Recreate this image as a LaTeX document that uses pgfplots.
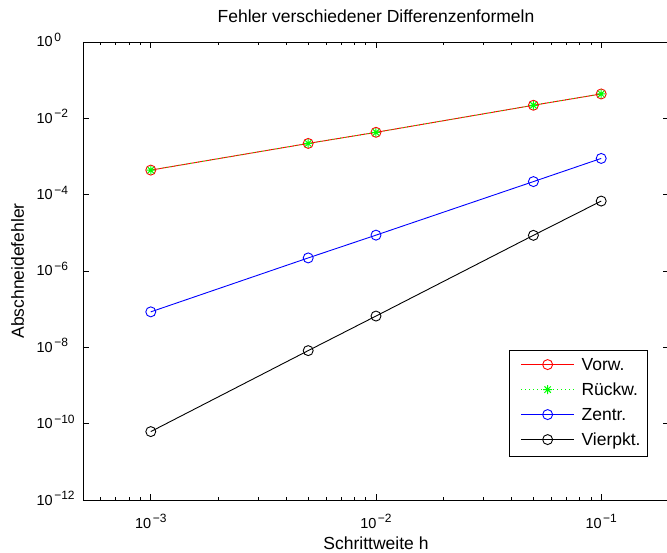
\documentclass[border=0pt]{standalone}
\usepackage{fontspec}
\setmainfont{Liberation Sans}
\usepackage{pgfplots}
\pgfplotsset{compat=1.18}

\definecolor{mred}{RGB}{255,0,0}
\definecolor{mgreen}{RGB}{0,255,0}
\definecolor{mblue}{RGB}{0,0,255}

% exponent of the tick labels
\newcommand{\ex}[1]{\hspace{1.5pt}\raisebox{5.5pt}{\fontsize{12}{13}\selectfont#1}}
\newcommand{\exr}[1]{\rlap{\ex{#1}}}

% matlab-like asterisk: + and x on top of each other
\pgfdeclareplotmark{star8}{%
    \pgfpathmoveto{\pgfqpoint{0pt}{\pgfplotmarksize}}%
    \pgfpathlineto{\pgfqpoint{0pt}{-\pgfplotmarksize}}%
    \pgfpathmoveto{\pgfqpoint{\pgfplotmarksize}{0pt}}%
    \pgfpathlineto{\pgfqpoint{-\pgfplotmarksize}{0pt}}%
    \pgfpathmoveto{\pgfqpoint{0.707\pgfplotmarksize}{0.707\pgfplotmarksize}}%
    \pgfpathlineto{\pgfqpoint{-0.707\pgfplotmarksize}{-0.707\pgfplotmarksize}}%
    \pgfpathmoveto{\pgfqpoint{0.707\pgfplotmarksize}{-0.707\pgfplotmarksize}}%
    \pgfpathlineto{\pgfqpoint{-0.707\pgfplotmarksize}{0.707\pgfplotmarksize}}%
    \pgfusepathqstroke
}

\begin{document}
\begin{tikzpicture}
\begin{axis}[
    scale only axis,
    width=586pt, height=458pt,
    xmode=log, ymode=log,
    xmin=5e-4, xmax=0.2,
    ymin=1e-12, ymax=1,
    axis line style={line width=0.9pt},
    tick style={black, line width=0.8pt},
    tick pos=both, tick align=inside,
    major tick length=6pt, minor tick length=3.5pt,
    xtick={1e-3,1e-2,1e-1},
    xticklabels={10\ex{−3},10\ex{−2},10\ex{−1}},
    minor xtick={5e-4,6e-4,7e-4,8e-4,9e-4,2e-3,3e-3,4e-3,5e-3,6e-3,7e-3,8e-3,9e-3,2e-2,3e-2,4e-2,5e-2,6e-2,7e-2,8e-2,9e-2,2e-1},
    ytick={1,1e-2,1e-4,1e-6,1e-8,1e-10,1e-12},
    yticklabels={10\exr{0},10\exr{−2},10\exr{−4},10\exr{−6},10\exr{−8},10\exr{−10},10\exr{−12}},
    yminorticks=false,
    xticklabel style={anchor=base, inner sep=0pt, yshift=-28pt, font=\fontsize{14.5}{16}\selectfont},
    yticklabel style={anchor=base east, inner sep=0pt, xshift=-30pt, yshift=-5pt, font=\fontsize{14.5}{16}\selectfont},
    title={Fehler verschiedener Differenzenformeln},
    title style={at={(axis description cs:0.5,1.029)}, anchor=base, inner sep=0pt, font=\fontsize{17.5}{20}\selectfont},
    xlabel={Schrittweite h},
    xlabel style={at={(axis description cs:0.5,-0.1075)}, anchor=base, inner sep=0pt, font=\fontsize{17.5}{20}\selectfont},
    ylabel={Abschneidefehler},
    ylabel style={at={(axis description cs:-0.1007,0.5)}, anchor=base, inner sep=0pt, font=\fontsize{17.5}{20}\selectfont},
    legend style={
        at={(0.9642,0.0939)}, anchor=south east,
        draw=black, line width=0.8pt, fill=white,
        inner sep=5pt, row sep=4pt,
        font=\fontsize{17.5}{20}\selectfont,
        nodes={inner sep=2pt, text height=13pt, text depth=4pt},
        /tikz/every odd column/.append style={column sep=5pt},
    },
    legend cell align=left,
    legend image code/.code={
        \path (0pt,0pt);
        \draw[mark repeat=2, mark phase=2, #1] plot coordinates {(6pt,1.5pt) (32.5pt,1.5pt) (59pt,1.5pt)};
    },
]
\addplot[color=mred, line width=0.9pt, mark=o, mark size=5pt, mark options={solid}] coordinates {
    (1e-3, 4.4e-4) (5e-3, 2.2e-3) (1e-2, 4.3e-3) (5e-2, 2.2e-2) (1e-1, 4.35e-2)
};
\addlegendentry{Vorw.}
\addplot[color=mgreen, line width=0.9pt, dash pattern=on 1pt off 3pt, mark=star8, mark size=4.5pt, mark options={solid, line width=1pt}] coordinates {
    (1e-3, 4.4e-4) (5e-3, 2.2e-3) (1e-2, 4.3e-3) (5e-2, 2.2e-2) (1e-1, 4.35e-2)
};
\addlegendentry{Rückw.}
\addplot[color=mblue, line width=0.9pt, mark=o, mark size=5pt, mark options={solid}] coordinates {
    (1e-3, 8.5e-8) (5e-3, 2.2e-6) (1e-2, 8.7e-6) (5e-2, 2.2e-4) (1e-1, 8.9e-4)
};
\addlegendentry{Zentr.}
\addplot[color=black, line width=0.9pt, mark=o, mark size=5pt, mark options={solid}] coordinates {
    (1e-3, 6.2e-11) (5e-3, 8.2e-9) (1e-2, 6.6e-8) (5e-2, 8.6e-6) (1e-1, 6.8e-5)
};
\addlegendentry{Vierpkt.}
\end{axis}
\pgfresetboundingbox
\path[use as bounding box] (-83pt,-53pt) rectangle (584pt,500pt);
\end{tikzpicture}
\end{document}
